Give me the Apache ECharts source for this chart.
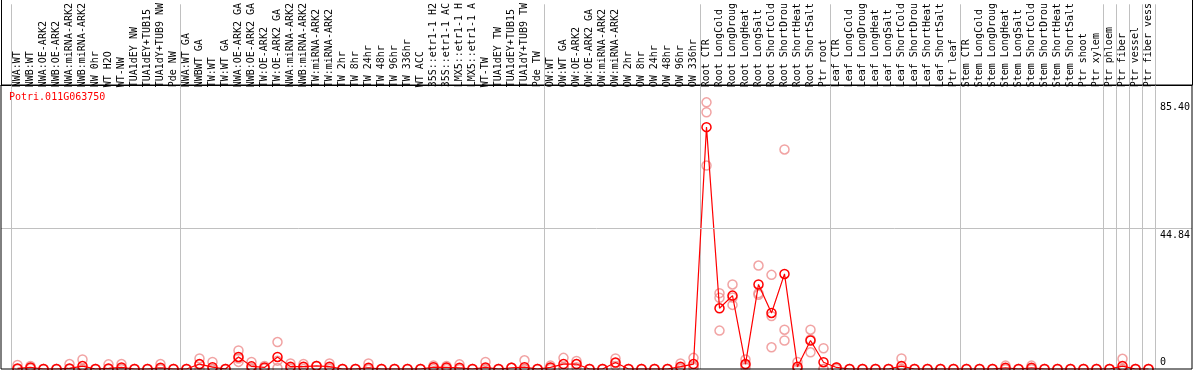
<!DOCTYPE html>
<html>
<head>
<meta charset="utf-8">
<script src="https://cdn.jsdelivr.net/npm/echarts@6/dist/echarts.min.js"></script>
<style>
  html, body { margin: 0; padding: 0; background: #fff; }
  #chart { width: 1194px; height: 370px; }
</style>
</head>
<body>
<div id="chart"></div>
<script>
// sample labels, as shown (clipped) on the chart
const categories = [
  'NWA:WT', 'NWB:WT', 'NWA:OE-ARK2', 'NWB:OE-ARK2', 'NWA:miRNA-ARK2', 'NWB:miRNA-ARK2', 'NW 0hr', 'WT H2O', 'WT-NW',
  'TUA1dEY NW', 'TUA1dEY+TUB15', 'TUA1dY+TUB9 NW', 'Pde NW',
  'NWA:WT GA', 'NWBWT GA', 'TW:WT', 'TW:WT GA', 'NWA:OE-ARK2 GA', 'NWB:OE-ARK2 GA', 'TW:OE-ARK2', 'TW:OE-ARK2 GA',
  'NWA:miRNA-ARK2', 'NWB:miRNA-ARK2', 'TW:miRNA-ARK2', 'TW:miRNA-ARK2', 'TW 2hr', 'TW 8hr', 'TW 24hr', 'TW 48hr',
  'TW 96hr', 'TW 336hr', 'WT ACC', '35S::etr1-1 H2', '35S::etr1-1 AC', 'LMX5::etr1-1 H', 'LMX5::etr1-1 A', 'WT-TW',
  'TUA1dEY TW', 'TUA1dEY+TUB15', 'TUA1dY+TUB9 TW', 'Pde TW',
  'OW:WT', 'OW:WT GA', 'OW:OE-ARK2', 'OW:OE-ARK2 GA', 'OW:miRNA-ARK2', 'OW:miRNA-ARK2', 'OW 2hr', 'OW 8hr', 'OW 24hr',
  'OW 48hr', 'OW 96hr', 'OW 336hr',
  'Root CTR', 'Root LongCold', 'Root LongDroug', 'Root LongHeat', 'Root LongSalt', 'Root ShortCold', 'Root ShortDrou',
  'Root ShortHeat', 'Root ShortSalt', 'Ptr root',
  'Leaf CTR', 'Leaf LongCold', 'Leaf LongDroug', 'Leaf LongHeat', 'Leaf LongSalt', 'Leaf ShortCold', 'Leaf ShortDrou',
  'Leaf ShortHeat', 'Leaf ShortSalt', 'Ptr leaf',
  'Stem CTR', 'Stem LongCold', 'Stem LongDroug', 'Stem LongHeat', 'Stem LongSalt', 'Stem ShortCold', 'Stem ShortDrou',
  'Stem ShortHeat', 'Stem ShortSalt', 'Ptr shoot', 'Ptr xylem',
  'Ptr phloem', 'Ptr fiber', 'Ptr vessel', 'Ptr fiber vess'
]

// index of first sample in each group (gray separators)
const groupStarts = [0, 13, 41, 53, 63, 73, 84, 85, 86, 87]

// mean expression
const meanValues = [
  0.2, 0.5, 0, 0, 0.2, 0.95, 0, 0.2, 0.5, 0, 0, 0.4, 0,
  0, 1.6, 0.6, 0, 3.9, 0.85, 0.5, 3.9, 0.75, 0.75, 1.0, 0.75, 0, 0, 0.4, 0, 0, 0, 0, 0.6, 0.5, 0.4, 0, 0.5, 0, 0.4, 0.6, 0,
  0.5, 1.6, 1.6, 0, 0, 2.1, 0, 0, 0, 0, 0.75, 1.6,
  78.1, 19.6, 23.7, 1.6, 27.3, 18.1, 30.7, 0.7, 9.2, 2.2,
  0.5, 0, 0, 0, 0, 0.95, 0, 0, 0, 0,
  0, 0, 0, 0.4, 0, 0.4, 0, 0, 0, 0, 0,
  0, 0.95, 0, 0
]

// replicates
const rep1 = [
  1.3, 1.0, 0, 0, 1.6, 3.1, 0, 1.5, 1.6, 0, 0, 1.6, 0,
  0, 3.4, 2.3, 0, 6.0, 2.3, 1.0, 8.7, 1.8, 1.6, 1.0, 1.8, 0, 0, 1.8, 0, 0, 0, 0, 1.1, 1.0, 1.5, 0, 2.3, 0, 0.4, 2.8, 0,
  1.1, 3.6, 2.6, 0, 0, 3.4, 0, 0, 0, 0, 1.8, 3.6,
  86.1, 24.5, 27.3, 3.1, 33.4, 30.4, 70.9, 2.3, 12.7, 6.7,
  0.5, 0, 0, 0, 0, 3.4, 0, 0, 0, 0,
  0, 0, 0, 1.1, 0, 1.1, 0, 0, 0, 0, 0,
  0, 3.3, 0, 0
]
const rep2 = [
  0, 0.3, 0, 0, 0, 0, 0, 0, 0, 0, 0, 0, 0,
  0, 0, 0, 0, 2.3, 0.3, 0.2, 0.3, 0.4, 0.6, 1.0, 0.4, 0, 0, 0, 0, 0, 0, 0, 0.6, 0.5, 0, 0, 0, 0, 0.4, 0, 0,
  0.4, 0.6, 1.6, 0, 0, 1.0, 0, 0, 0, 0, 0.4, 0.8,
  82.9, 23.0, 20.7, 0.5, 24.5, 17.1, 12.7, 0, 5.4, 0,
  0.5, 0, 0, 0, 0, 0, 0, 0, 0, 0,
  0, 0, 0, 0, 0, 0, 0, 0, 0, 0, 0,
  0, 0, 0, 0
]
const rep3 = [
  0, 0.2, 0, 0, 0, 0, 0, 0, 0, 0, 0, 0, 0,
  0, 1.4, 0, 0, 3.4, 0, 0.3, 2.7, 0, 0, 1.0, 0, 0, 0, 0, 0, 0, 0, 0, 0, 0, 0, 0, 0, 0, 0.4, 0, 0,
  0, 0.6, 0.6, 0, 0, 1.9, 0, 0, 0, 0, 0, 0.4,
  65.7, 12.4, 23.1, 1.2, 24.0, 7.0, 9.2, 0, 9.5, 0,
  0, 0, 0, 0, 0, 0, 0, 0, 0, 0,
  0, 0, 0, 0, 0, 0, 0, 0, 0, 0, 0,
  0, 0, 0, 0
]

// y tick labels shown at the right
const yTickValues = [0, 44.84, 85.40]
const yTickLabels = ['0', '44.84', '85.40']
const yMax = 90.32

const geneName = 'Potri.011G063750'
const MONO = 'DejaVu Sans Mono'

function isSeparator(index) {
  return groupStarts.indexOf(index) >= 0
}

const chart = echarts.init(document.getElementById('chart'), null, { renderer: 'canvas' })

const repStyle = {
  color: 'transparent',
  borderColor: '#ee8c8c',
  borderWidth: 1.5
}

function repSeries(values) {
  return {
    type: 'scatter',
    xAxisIndex: 0,
    yAxisIndex: 0,
    data: values,
    symbol: 'circle',
    symbolSize: 9,
    itemStyle: repStyle,
    silent: true,
    z: 2
  }
}

chart.setOption({
  animation: false,
  backgroundColor: '#fff',
  title: {
    text: geneName,
    left: 9,
    top: 92,
    padding: 0,
    textStyle: { color: '#ff0000', fontSize: 10, fontWeight: 'normal', fontFamily: MONO }
  },
  grid: [
    { left: 11, right: 39, top: 85, bottom: 1 },
    // outer frame, drawn over the marks like in the original
    { left: 1, right: 2, top: 85, bottom: 1, show: true, z: 10, borderColor: '#000', borderWidth: 1, backgroundColor: 'transparent' }
  ],
  xAxis: [
    {
      type: 'category',
      gridIndex: 0,
      data: categories,
      position: 'top',
      boundaryGap: true,
      axisLine: { show: false, onZero: false },
      axisTick: { show: true, interval: isSeparator, length: 85, lineStyle: { color: '#c0c0c0' } },
      splitLine: { show: true, interval: isSeparator, lineStyle: { color: '#c0c0c0' } },
      axisLabel: { interval: 0, rotate: -90, margin: 2, fontFamily: MONO, fontSize: 10, color: '#000' }
    },
    {
      type: 'value',
      gridIndex: 1,
      min: 0,
      max: 1,
      interval: 1,
      position: 'top',
      axisLine: { show: true, onZero: false, lineStyle: { color: '#000' } },
      axisTick: { show: true, length: 85, lineStyle: { color: '#000' } },
      axisLabel: { show: false },
      splitLine: { show: false }
    }
  ],
  yAxis: [
    { type: 'value', gridIndex: 0, min: 0, max: yMax, show: false },
    { type: 'value', gridIndex: 1, min: 0, max: yMax, show: false }
  ],
  series: [
    {
      // frame: grid line and value labels
      type: 'line',
      xAxisIndex: 1,
      yAxisIndex: 1,
      data: [[0, 0]],
      symbol: 'none',
      silent: true,
      markLine: {
        silent: true,
        symbol: 'none',
        animation: false,
        data: yTickValues.map((v, i) => ({
          yAxis: v,
          lineStyle: { color: v === 44.84 ? '#c0c0c0' : 'rgba(0,0,0,0)', width: 1, type: 'solid' },
          label: {
            show: true,
            position: v === 0 ? 'insideEndTop' : 'insideEndBottom',
            distance: [2, 2],
            formatter: yTickLabels[i].padEnd(5, ' '),
            color: '#000',
            fontFamily: MONO,
            fontSize: 10
          }
        }))
      }
    },
    repSeries(rep1),
    repSeries(rep2),
    repSeries(rep3),
    {
      type: 'line',
      xAxisIndex: 0,
      yAxisIndex: 0,
      data: meanValues,
      symbol: 'circle',
      symbolSize: 9,
      showSymbol: true,
      itemStyle: { color: 'transparent', borderColor: '#ff0000', borderWidth: 1.5 },
      lineStyle: { color: '#ff0000', width: 1.2 },
      silent: true,
      z: 3
    }
  ]
})
</script>
</body>
</html>
